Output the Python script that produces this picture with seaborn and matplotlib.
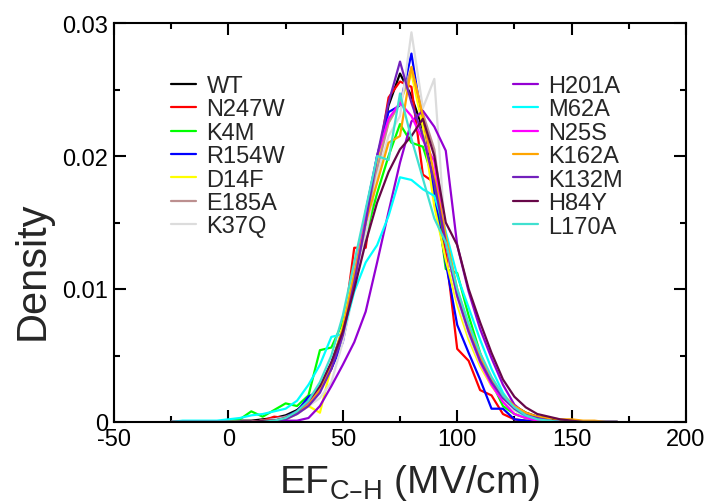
import pandas as pd
import matplotlib
matplotlib.use('Agg')
import matplotlib.pyplot as plt
import seaborn as sns
from matplotlib.ticker import MultipleLocator, FuncFormatter

# bin centres of the EF histograms (MV/cm)
ef_bins = list(range(-25, 175, 5))

variants = ['WT', 'N247W', 'K4M', 'R154W', 'D14F', 'E185A', 'K37Q',
            'H201A', 'M62A', 'N25S', 'K162A', 'K132M', 'H84Y', 'L170A']
colors = ['#000000', '#FF0000', '#00FF00', '#0000FF', '#FFFF00', '#BC8F8F', '#DCDCDC',
          '#9400D3', '#00FFFF', '#FF00FF', '#FFA500', '#7221BC', '#670748', '#40E0D0']

wt = [0, 0, 0, 0, 0, .0001, .0001, .0001, .0002, .0003,
      .0005, .0009, .0016, .0026, .0044, .0070, .0108, .0150, .0195, .0238,
      .0262, .0245, .0220, .0178, .0133, .0095, .0068, .0047, .0031, .0020,
      .0012, .0007, .0004, .0003, .0001, .0001, 0, 0, 0, 0]
n247w = [0, 0, 0, 0, 0, 0, 0, 0, .0001, .0004,
         .0003, .0008, .0014, .0024, .0040, .0066, .0131, .0131, .0192, .0244,
         .0256, .0252, .0186, .0180, .0128, .0055, .0046, .0024, .0020, .0006,
         .0002, .0001, 0, 0, 0, 0, 0, 0, 0, 0]
k4m = [0, 0, 0, 0, 0, .0001, .0002, .0008, .0004, .0009,
       .0014, .0012, .0020, .0054, .0056, .0075, .0108, .0140, .0172, .0200,
       .0224, .0210, .0207, .0180, .0115, .0112, .0080, .0052, .0030, .0012,
       .0006, .0003, .0001, 0, 0, 0, 0, 0, 0, 0]
r154w = [0, 0, 0, 0, 0, 0, 0, 0, .0001, .0002,
         .0004, .0008, .0019, .0024, .0040, .0060, .0105, .0158, .0200, .0233,
         .0238, .0277, .0222, .0170, .0120, .0073, .0052, .0032, .0010, .0010,
         .0002, .0001, 0, 0, 0, 0, 0, 0, 0, 0]
d14f = [0, 0, 0, 0, 0, 0, 0, 0, .0001, .0001,
        .0002, .0006, .0012, .0007, .0042, .0072, .0115, .0155, .0195, .0225,
        .0240, .0262, .0222, .0162, .0122, .0088, .0062, .0042, .0027, .0016,
        .0009, .0004, .0002, .0001, 0, 0, 0, 0, 0, 0]
e185a = [0, 0, 0, 0, 0, 0, 0, 0, .0001, .0002,
         .0004, .0007, .0014, .0025, .0043, .0068, .0105, .0148, .0190, .0225,
         .0240, .0266, .0232, .0205, .0140, .0098, .0070, .0048, .0030, .0018,
         .0010, .0005, .0002, .0001, 0, 0, 0, 0, 0, 0]
k37q = [0, 0, 0, 0, 0, 0, 0, 0, .0001, .0002,
        .0003, .0006, .0012, .0018, .0030, .0060, .0100, .0140, .0185, .0215,
        .0230, .0293, .0236, .0258, .0135, .0092, .0065, .0044, .0028, .0016,
        .0009, .0004, .0002, .0001, 0, 0, 0, 0, 0, 0]
h201a = [0, 0, 0, 0, 0, 0, 0, 0, 0, 0,
         .0001, .0001, .0003, .0012, .0027, .0043, .0060, .0083, .0120, .0158,
         .0195, .0226, .0234, .0222, .0204, .0133, .0098, .0070, .0048, .0028,
         .0013, .0006, .0003, .0001, 0, 0, 0, 0, 0, 0]
m62a = [0, .0001, .0001, .0001, .0001, .0002, .0003, .0005, .0006, .0008,
        .0010, .0016, .0028, .0043, .0064, .0066, .0098, .0120, .0133, .0155,
        .0184, .0182, .0175, .0170, .0143, .0110, .0086, .0062, .0040, .0022,
        .0010, .0004, .0002, .0001, 0, 0, 0, 0, 0, 0]
n25s = [0, 0, 0, 0, 0, 0, 0, 0, .0001, .0001,
        .0003, .0007, .0014, .0024, .0042, .0068, .0110, .0155, .0200, .0228,
        .0240, .0230, .0212, .0196, .0135, .0095, .0068, .0045, .0028, .0015,
        .0006, .0003, .0001, 0, 0, 0, 0, 0, 0, 0]
k162a = [0, 0, 0, 0, 0, 0, 0, 0, .0001, .0001,
         .0003, .0007, .0013, .0024, .0043, .0070, .0110, .0150, .0180, .0210,
         .0215, .0267, .0230, .0185, .0140, .0100, .0072, .0050, .0032, .0020,
         .0012, .0007, .0004, .0003, .0002, .0002, .0001, .0001, 0, 0]
k132m = [0, 0, 0, 0, 0, 0, 0, 0, 0, .0001,
         .0002, .0006, .0012, .0022, .0040, .0065, .0105, .0150, .0200, .0240,
         .0271, .0240, .0215, .0180, .0135, .0095, .0068, .0046, .0030, .0018,
         .0010, .0005, .0003, .0001, 0, 0, 0, 0, 0, 0]
h84y = [0, 0, 0, 0, 0, 0, 0, 0, .0001, .0001,
        .0003, .0008, .0016, .0027, .0045, .0068, .0100, .0135, .0165, .0188,
        .0205, .0215, .0228, .0200, .0150, .0133, .0100, .0075, .0052, .0032,
        .0019, .0011, .0006, .0004, .0002, .0001, 0, 0, 0, 0]
l170a = [0, 0, 0, 0, 0, 0, 0, 0, 0, .0001,
         .0003, .0008, .0016, .0030, .0050, .0080, .0120, .0160, .0200, .0197,
         .0247, .0213, .0183, .0153, .0135, .0100, .0074, .0052, .0034, .0020,
         .0011, .0005, .0002, .0001, 0, 0, 0, 0, 0, 0]

series = [wt, n247w, k4m, r154w, d14f, e185a, k37q,
          h201a, m62a, n25s, k162a, k132m, h84y, l170a]

frames = [pd.DataFrame({'EF': ef_bins, 'Density': vals, 'variant': name})
          for name, vals in zip(variants, series)]
df = pd.concat(frames, ignore_index=True)

sns.set_theme(style='ticks')
plt.rcParams['font.family'] = ['Liberation Sans', 'DejaVu Sans']
plt.rcParams['axes.unicode_minus'] = False
plt.rcParams['mathtext.default'] = 'regular'

fig = plt.figure(figsize=(7.07, 5.02), dpi=100)
ax = fig.add_axes([114 / 707, 79 / 502, 572 / 707, 399 / 502])

sns.lineplot(data=df, x='EF', y='Density', hue='variant', hue_order=variants,
             palette=colors, estimator=None, sort=False, linewidth=1.6, ax=ax)

ax.set_xlim(-50, 200)
ax.set_ylim(0, 0.03)
ax.xaxis.set_major_locator(MultipleLocator(50))
ax.xaxis.set_minor_locator(MultipleLocator(25))
ax.yaxis.set_major_locator(MultipleLocator(0.01))
ax.yaxis.set_minor_locator(MultipleLocator(0.005))
ax.yaxis.set_major_formatter(FuncFormatter(lambda v, p: '0' if abs(v) < 1e-9 else '%.2f' % v))
ax.tick_params(which='both', direction='in', top=True, right=True, width=1.5,
               labelsize=17, colors='black', pad=4)
ax.tick_params(which='major', length=8.5)
ax.tick_params(which='minor', length=4.3)
for s in ax.spines.values():
    s.set_linewidth(1.5)
    s.set_color('black')

ax.set_ylabel('Density', fontsize=30)
ax.yaxis.set_label_coords(-0.107, 0.381)
ax.set_xlabel('$EF_{C\u2013H}$ (MV/cm)', fontsize=28)
ax.xaxis.set_label_coords(0.517, -0.1)

old = ax.get_legend()
handles = old.legend_handles
labels = [t.get_text() for t in old.texts]
old.remove()
for h in handles:
    h.set_linewidth(1.6)

leg_kw = dict(loc='upper left', bbox_transform=fig.transFigure, frameon=False,
              fontsize=17, handlelength=1.05, handletextpad=0.45,
              labelspacing=0.06, borderpad=0, borderaxespad=0)
leg1 = ax.legend(handles[:7], labels[:7], bbox_to_anchor=(171 / 707, 426 / 502), **leg_kw)
ax.add_artist(leg1)
ax.legend(handles[7:], labels[7:], bbox_to_anchor=(513 / 707, 426 / 502), **leg_kw)

fig.savefig('out.png', dpi=100)
